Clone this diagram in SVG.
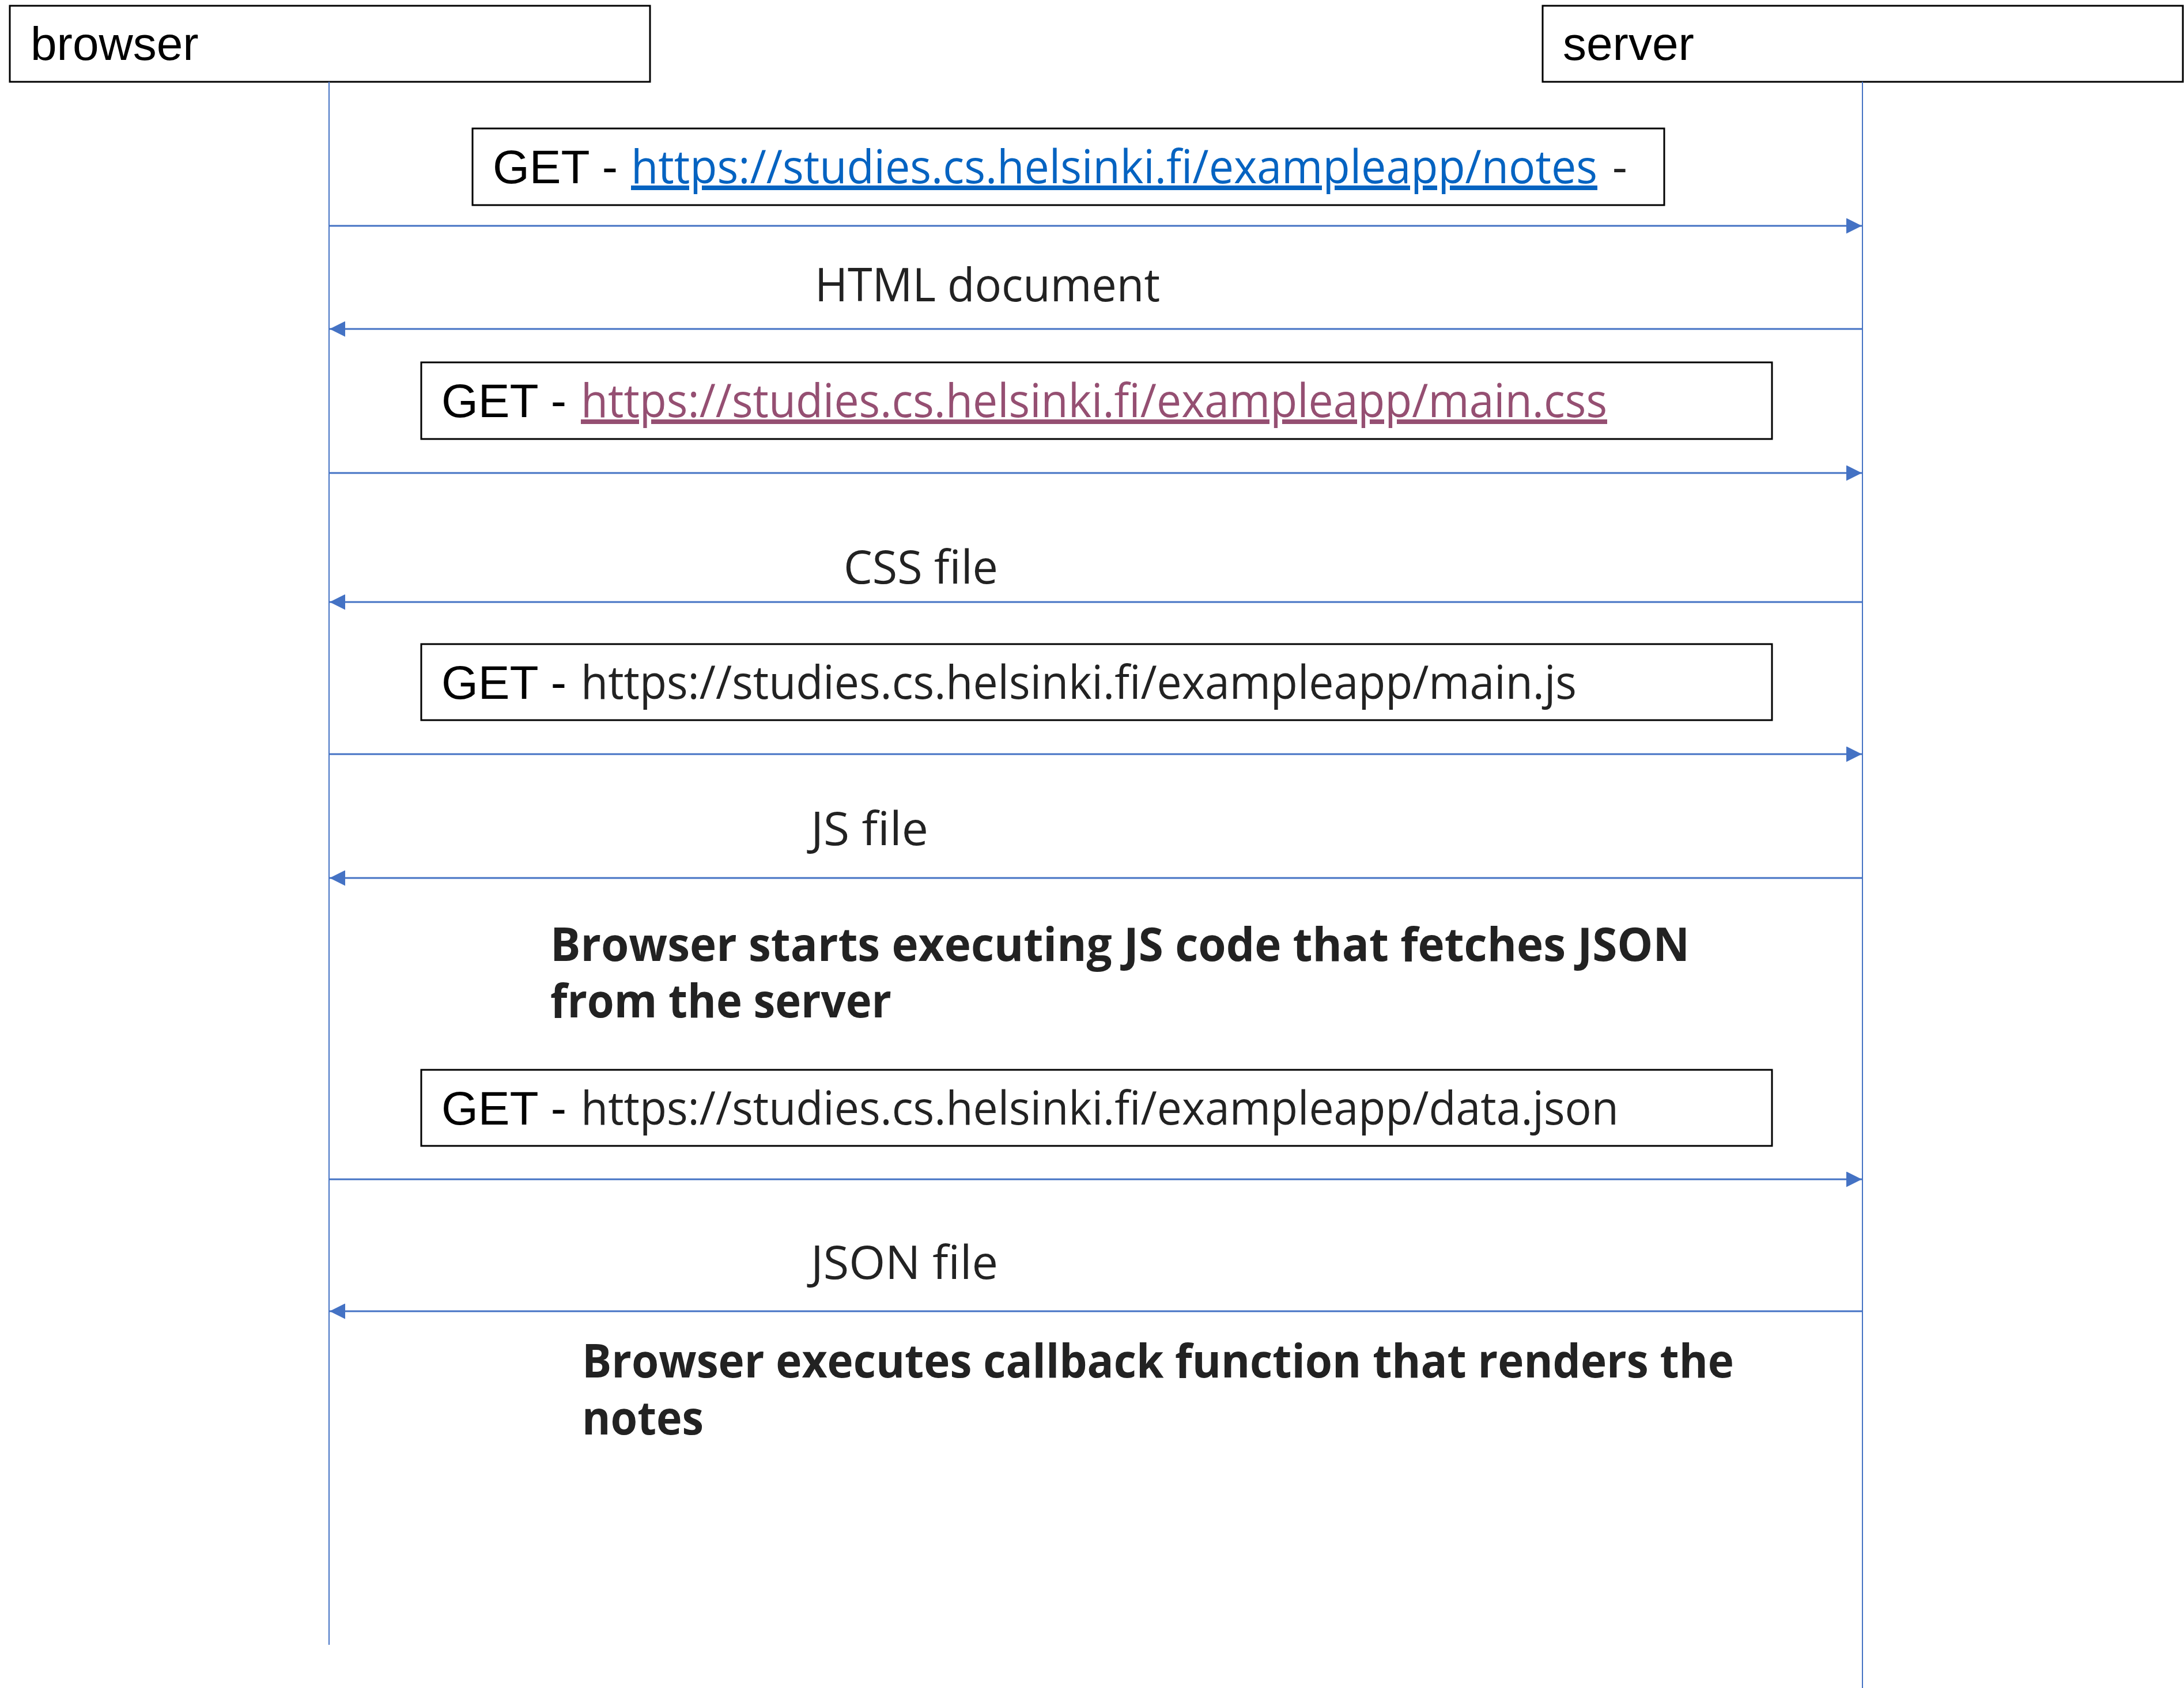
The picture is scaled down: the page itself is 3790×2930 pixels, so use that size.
<svg xmlns="http://www.w3.org/2000/svg" width="3790" height="2930" viewBox="0 0 3790 2930">
<style>
.box{fill:#fff;stroke:#000;stroke-width:3}
.life{stroke:#4472C4;stroke-width:2;fill:none}
.msg{stroke:#4472C4;stroke-width:3;fill:none}
.ar{font-family:"Liberation Sans",Arial,sans-serif;font-size:82px;fill:#000}
.se{font-family:"Open Sans","Noto Sans",sans-serif;font-size:80px;fill:#222}
.link1{fill:#0563C1;text-decoration:underline}
.link2{fill:#954F72;text-decoration:underline}
.bold{font-family:"Open Sans","Noto Sans",sans-serif;font-size:80px;font-weight:bold;fill:#222}
</style>
<defs>
<marker id="ah" viewBox="0 0 10 10" refX="10" refY="5" markerWidth="9" markerHeight="9" orient="auto" markerUnits="strokeWidth">
<path d="M0,0 L10,5 L0,10 z" fill="#4472C4"/>
</marker>
</defs>
<rect width="3790" height="2930" fill="#fff"/>
<g id="browser">
<rect class="box" x="17" y="10" width="1111" height="132" stroke-width="4"/>
<text class="ar" x="53" y="104">browser</text>
</g>
<g id="server">
<rect class="box" x="2677" y="10" width="1111" height="132" stroke-width="4"/>
<text class="ar" x="2712" y="104">server</text>
</g>
<g id="lifelines">
<line class="life" x1="571" y1="142" x2="571" y2="2855"/>
<line class="life" x1="3232" y1="142" x2="3232" y2="2930"/>
</g>
<g id="connectors">
<line class="msg" x1="571" y1="392" x2="3231" y2="392" marker-end="url(#ah)"/>
<line class="msg" x1="3232" y1="571" x2="572" y2="571" marker-end="url(#ah)"/>
<line class="msg" x1="571" y1="821" x2="3231" y2="821" marker-end="url(#ah)"/>
<line class="msg" x1="3232" y1="1045" x2="572" y2="1045" marker-end="url(#ah)"/>
<line class="msg" x1="571" y1="1309" x2="3231" y2="1309" marker-end="url(#ah)"/>
<line class="msg" x1="3232" y1="1524" x2="572" y2="1524" marker-end="url(#ah)"/>
<line class="msg" x1="571" y1="2047" x2="3231" y2="2047" marker-end="url(#ah)"/>
<line class="msg" x1="3232" y1="2276" x2="572" y2="2276" marker-end="url(#ah)"/>
</g>
<g id="get-notes">
<rect class="box" x="820" y="223" width="2068" height="133"/>
<text class="ar" x="855" y="318">GET - <tspan class="se link1" x="1095" textLength="1677" lengthAdjust="spacingAndGlyphs">https://studies.cs.helsinki.fi/exampleapp/notes</tspan><tspan class="se" x="2798">-</tspan></text>
</g>
<g id="html-document">
<text class="se" x="1414" y="523" textLength="599" lengthAdjust="spacingAndGlyphs">HTML document</text>
</g>
<g id="get-css">
<rect class="box" x="731" y="629" width="2344" height="133"/>
<text class="ar" x="766" y="724">GET - <tspan class="se link2" x="1008" textLength="1781" lengthAdjust="spacingAndGlyphs">https://studies.cs.helsinki.fi/exampleapp/main.css</tspan></text>
</g>
<g id="css-file">
<text class="se" x="1464" y="1013" textLength="268" lengthAdjust="spacingAndGlyphs">CSS file</text>
</g>
<g id="get-js">
<rect class="box" x="731" y="1118" width="2344" height="132"/>
<text class="ar" x="766" y="1213">GET - <tspan class="se" x="1008" textLength="1728" lengthAdjust="spacingAndGlyphs">https://studies.cs.helsinki.fi/exampleapp/main.js</tspan></text>
</g>
<g id="js-file">
<text class="se" x="1407" y="1467" textLength="204" lengthAdjust="spacingAndGlyphs">JS file</text>
</g>
<g id="note-fetch">
<text class="bold"><tspan x="955" y="1668" textLength="1977" lengthAdjust="spacingAndGlyphs">Browser starts executing JS code that fetches JSON</tspan><tspan x="955" y="1766" textLength="592" lengthAdjust="spacingAndGlyphs">from the server</tspan></text>
</g>
<g id="get-json">
<rect class="box" x="731" y="1857" width="2344" height="132"/>
<text class="ar" x="766" y="1952">GET - <tspan class="se" x="1008" textLength="1801" lengthAdjust="spacingAndGlyphs">https://studies.cs.helsinki.fi/exampleapp/data.json</tspan></text>
</g>
<g id="json-file">
<text class="se" x="1407" y="2220" textLength="325" lengthAdjust="spacingAndGlyphs">JSON file</text>
</g>
<g id="note-render">
<text class="bold"><tspan x="1010" y="2391" textLength="1999" lengthAdjust="spacingAndGlyphs">Browser executes callback function that renders the</tspan><tspan x="1010" y="2490" textLength="211" lengthAdjust="spacingAndGlyphs">notes</tspan></text>
</g>
</svg>
